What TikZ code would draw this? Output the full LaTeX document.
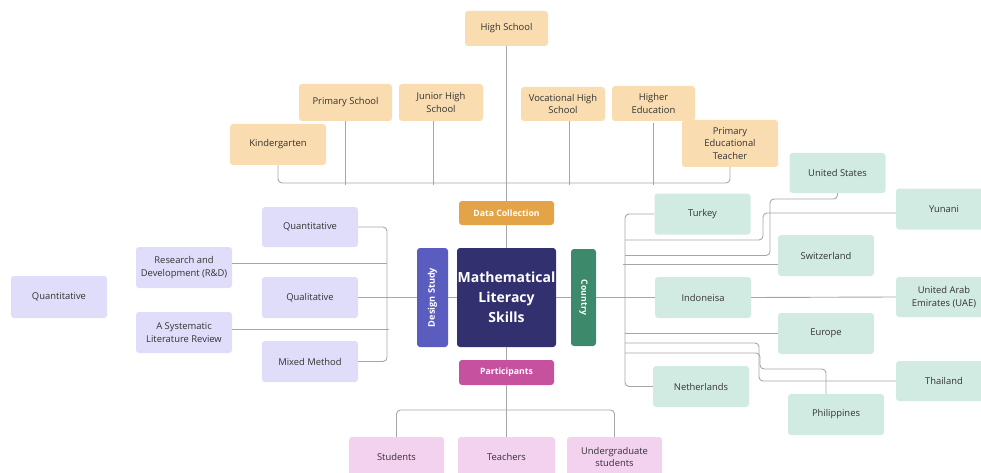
\documentclass[tikz,border=0pt]{standalone}
\usepackage{fontspec}
\setmainfont{Open Sans}
\definecolor{oL}{HTML}{F9DCB0}
\definecolor{pL}{HTML}{DFDDF9}
\definecolor{gL}{HTML}{D2EBE2}
\definecolor{kL}{HTML}{F3D2EF}
\definecolor{dcC}{HTML}{E3A448}
\definecolor{mainC}{HTML}{32306E}
\definecolor{dsC}{HTML}{5B5CC0}
\definecolor{coC}{HTML}{3C8A6B}
\definecolor{paC}{HTML}{C6529F}
\definecolor{lnC}{HTML}{A6A6A6}
\definecolor{txC}{HTML}{333333}
\begin{document}
\begin{tikzpicture}[x=1pt,y=-1pt,
  bx/.style={rounded corners=3pt, align=center, inner sep=0pt, text=txC,
    font=\fontsize{9.4}{12.5}\selectfont, minimum width=96pt, minimum height=41pt},
  ob/.style={bx, fill=oL},
  pb/.style={bx, fill=pL},
  gb/.style={bx, fill=gL},
  kb/.style={bx, fill=kL},
  hub/.style={rounded corners=3pt, align=center, inner sep=0pt, text=white,
    font=\fontsize{8.7}{10}\selectfont\bfseries},
  ln/.style={draw=lnC, line width=0.9pt},
  rc/.style={ln, rounded corners=4pt}]
\useasboundingbox (0,0) rectangle (981,473);
\clip (0,0) rectangle (981,473);
% named bus coordinates
\coordinate (topbus) at (506.5,183);
\coordinate (lbus) at (387,297.5);
\coordinate (rbus) at (625,297.5);
\coordinate (bbus) at (506.5,410);
\coordinate (usk) at (770,199);
\coordinate (yuk) at (763,240);
\coordinate (thk) at (759,343);
\coordinate (phk) at (760,353);
\coordinate (phk2) at (826,369);
% center
\node[hub, fill=mainC, minimum width=99pt, minimum height=99pt,
  font=\fontsize{14}{20}\selectfont\bfseries] (mls) at (506.5,297.5) {Mathematical\\Literacy\\Skills};
\node[hub, fill=dcC, minimum width=95pt, minimum height=24pt] (dc) at (506.5,213) {Data Collection};
\node[hub, fill=dsC, minimum width=99pt, minimum height=31pt, rotate=90,
  font=\fontsize{9.2}{10}\selectfont\bfseries] (ds) at (432.5,297.5) {Design Study};
\node[hub, fill=coC, minimum width=97pt, minimum height=25pt, rotate=-90] (co) at (583.5,297.5) {Country};
\node[hub, fill=paC, minimum width=95pt, minimum height=25pt] (pa) at (506.5,372.5) {Participants};
% top
\node[ob, minimum width=83pt, minimum height=35pt] (hs) at (506.5,28.5) {High School};
\node[ob, minimum width=93pt, minimum height=37pt] (ps) at (345.5,102.5) {Primary School};
\node[ob, minimum width=84pt, minimum height=37pt] (jh) at (441,102.5) {Junior High\\School};
\node[ob, minimum width=84pt, minimum height=34pt] (vh) at (563,104) {Vocational High\\School};
\node[ob, minimum width=83pt, minimum height=35pt] (he) at (653.5,103.5) {Higher\\Education};
\node[ob, minimum width=96pt, minimum height=41pt] (kg) at (278,144.5) {Kindergarten};
\node[ob, minimum width=96pt, minimum height=47pt] (pet) at (730,143.5) {Primary\\Educational\\Teacher};
% left
\node[pb, minimum height=42pt] (q0) at (59,297) {Quantitative};
\node[pb, minimum height=40pt] (q1) at (310,227) {Quantitative};
\node[pb] (rd) at (184,267.5) {Research and\\Development (R\&D)};
\node[pb] (ql) at (310,297.5) {Qualitative};
\node[pb] (slr) at (184,332.5) {A Systematic\\Literature Review};
\node[pb] (mm) at (310,361.5) {Mixed Method};
% right
\node[gb] (tu) at (702.5,214) {Turkey};
\node[gb, minimum height=40pt] (us) at (837.5,173) {United States};
\node[gb] (yu) at (944,209) {Yunani};
\node[gb] (sw) at (826,255.5) {Switzerland};
\node[gb] (id) at (703,297.5) {Indoneisa};
\node[gb, minimum height=40pt] (uae) at (944,297) {United Arab\\Emirates (UAE)};
\node[gb] (eu) at (826,333.5) {Europe};
\node[gb, minimum height=40pt] (th) at (944,381) {Thailand};
\node[gb] (ne) at (701,386.5) {Netherlands};
\node[gb] (ph) at (836,414.5) {Philippines};
% bottom
\node[kb, minimum width=95pt, minimum height=40pt] (st) at (396.5,457) {Students};
\node[kb, minimum width=97pt, minimum height=40pt] (te) at (506.5,457) {Teachers};
\node[kb, minimum width=95pt, minimum height=40pt] (ug) at (614.5,457) {Undergraduate\\students};
% top tree
\coordinate (jhs) at ([xshift=-8pt]jh.south);
\coordinate (vhs) at ([xshift=6pt]vh.south);
\draw[ln] (hs.south) -- (dc.north);
\draw[rc] (kg.south) |- (topbus) -| (pet.south);
\draw[ln] (ps.south) -- ([yshift=-2pt]ps.south |- topbus);
\draw[ln] (jhs) -- ([yshift=-2pt]jhs |- topbus);
\draw[ln] (vhs) -- ([yshift=-2pt]vhs |- topbus);
\draw[ln] ([yshift=-2pt]he.south) -- ([yshift=-2pt]he.south |- topbus);
% center
\draw[ln] (dc.south) -- (mls.north);
\draw[ln] (mls.south) -- (pa.north);
\draw[ln] (ds.south) -- (mls.west);
\draw[ln] (mls.east) -- (co.south);
% left tree
\draw[rc] (q1.east) -| (lbus) |- (mm.east);
\draw[ln] (ql.east) -- (ds.north);
\draw[ln] ([yshift=4pt]rd.east) -- ([yshift=4pt]rd.east -| lbus);
\draw[ln] ([yshift=3.5pt]slr.east) -- ([xshift=1.5pt,yshift=3.5pt]slr.east -| lbus);
% right tree
\draw[ln] (co.north) -- (id.west);
\draw[ln] (id.east) -- (uae.west);
\draw[rc] (tu.west) -| (rbus) |- (ne.west);
\draw[rc] (us.south) |- (usk) |- (rbus |- sw.center);
\draw[rc] ([yshift=-4pt]yu.west) -| (yuk) -- (rbus |- yuk);
\draw[ln] ([yshift=-8.5pt]sw.west) -- ([xshift=-2pt,yshift=-8.5pt]sw.west -| rbus);
\draw[ln] (eu.west) -- (eu.west -| rbus);
\draw[rc] (rbus |- thk) -- (thk) |- (th.west);
\draw[rc] (rbus |- phk) -- (phk) |- (phk2) -- (phk2 |- ph.north);
% bottom tree
\draw[ln] (pa.south) -- (te.north);
\draw[rc] (st.north) |- (bbus) -| (ug.north);
\end{tikzpicture}
\end{document}
